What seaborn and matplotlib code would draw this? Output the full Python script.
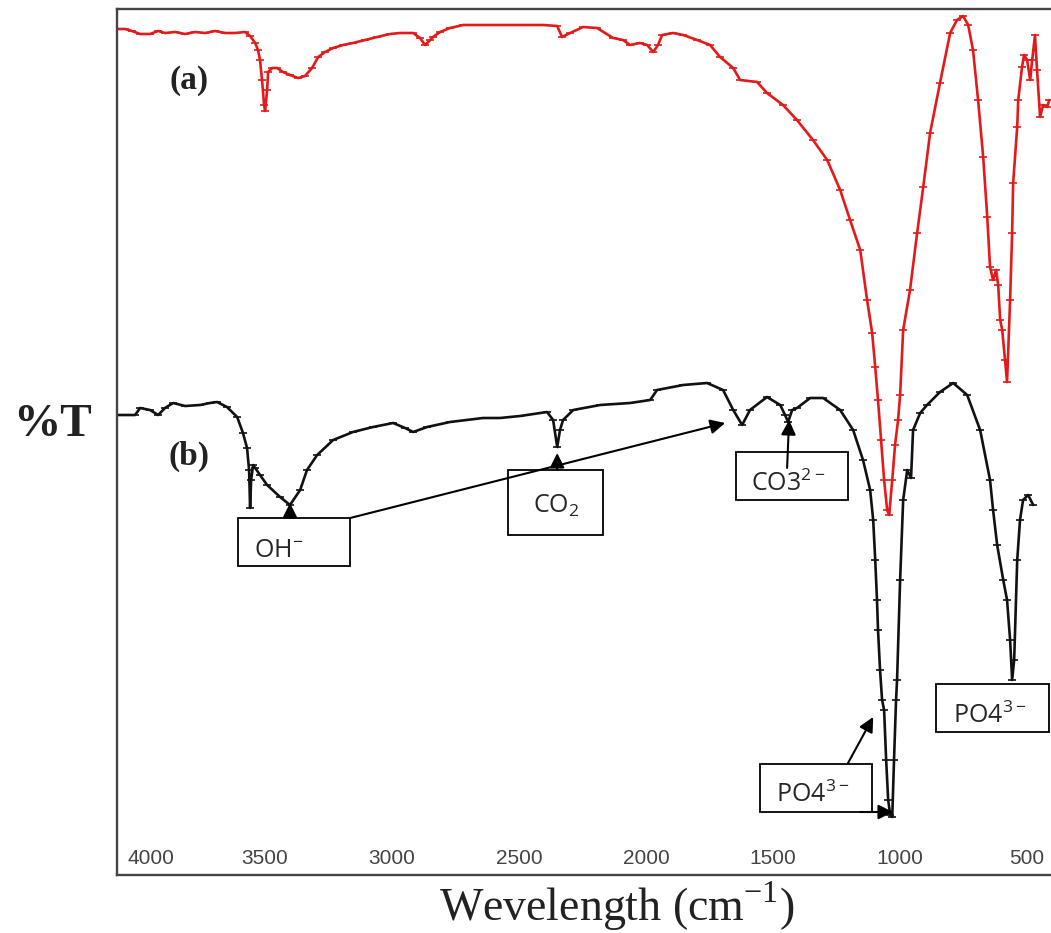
import matplotlib
matplotlib.use("Agg")
import matplotlib.pyplot as plt
import matplotlib.transforms as mtransforms
import seaborn as sns
import pandas as pd
from matplotlib.patches import Rectangle

# ---------------- data (wavenumber cm-1, transmittance a.u.) ----------------
red_wn = [4083, 4051, 4024, 3992, 3953, 3921, 3894, 3854, 3815, 3776, 3736, 3697, 3657, 3618,
          3579, 3559, 3539, 3528, 3520, 3512, 3504, 3500, 3492, 3488, 3472, 3453, 3429, 3402,
          3370, 3343, 3315, 3291, 3264, 3232, 3193, 3154, 3106, 3059, 3008, 2969, 2917, 2890,
          2870, 2850, 2839, 2811, 2772, 2720, 2575, 2406, 2350, 2331, 2299, 2248, 2193, 2130,
          2091, 2063, 2024, 1996, 1972, 1953, 1937, 1894, 1854, 1799, 1748, 1709, 1657, 1630,
          1563, 1524, 1461, 1406, 1343, 1287, 1236, 1197, 1157, 1130, 1110, 1098, 1087, 1075,
          1063, 1051, 1043, 1031, 1020, 1008, 1000, 988, 961, 933, 909, 882, 843, 803, 776,
          752, 732, 713, 693, 673, 657, 646, 634, 622, 614, 606, 598, 587, 579, 567, 559, 555,
          539, 535, 520, 512, 500, 488, 480, 469, 461, 449, 437, 421, 413]
red_t = [846, 846, 844, 841, 841, 844, 842, 843, 841, 843, 842, 844, 842, 842,
         843, 839, 832, 825, 815, 795, 770, 764, 785, 803, 807, 807, 803, 800,
         797, 799, 807, 818, 823, 827, 830, 832, 835, 838, 841, 842, 842, 837,
         830, 835, 838, 843, 847, 850, 850, 850, 849, 838, 842, 848, 847, 837,
         835, 830, 832, 830, 823, 830, 840, 842, 840, 835, 830, 818, 807, 795,
         793, 782, 770, 755, 735, 715, 685, 655, 625, 575, 542, 508, 475, 435,
         395, 365, 360, 395, 430, 455, 480, 545, 585, 642, 688, 742, 792, 842, 855,
         859, 850, 825, 775, 718, 658, 608, 595, 605, 590, 555, 545, 515, 493, 575, 642, 692,
         748, 775, 808, 820, 815, 795, 815, 840, 805, 758, 770, 768, 775]

black_wn = [4083, 4012, 3992, 3953, 3921, 3894, 3862, 3815, 3756, 3717, 3689, 3650, 3610,
            3587, 3571, 3563, 3559, 3555, 3547, 3539, 3520, 3492, 3441, 3402, 3362, 3335,
            3295, 3232, 3154, 3075, 2996, 2949, 2917, 2862, 2772, 2642, 2575, 2496, 2390,
            2366, 2350, 2339, 2327, 2287, 2181, 2063, 1984, 1957, 1854, 1760, 1697, 1657,
            1622, 1591, 1524, 1472, 1453, 1441, 1425, 1406, 1354, 1303, 1236, 1185, 1146,
            1118, 1106, 1098, 1091, 1087, 1079, 1071, 1063, 1055, 1047, 1039, 1031, 1024,
            1016, 1012, 1000, 988, 972, 957, 949, 921, 894, 843, 791, 736, 685, 646, 634,
            618, 594, 579, 567, 559, 551, 539, 528, 516, 496, 476]
black_t = [460, 460, 467, 465, 460, 467, 472, 469, 470, 472, 473, 468, 458,
           442, 427, 405, 367, 395, 410, 407, 400, 390, 378, 370, 385, 405,
           420, 435, 443, 448, 452, 447, 443, 448, 453, 457, 457, 459, 463,
           455, 428, 445, 455, 465, 470, 472, 475, 485, 490, 492, 485, 465,
           450, 465, 478, 470, 460, 453, 465, 467, 477, 477, 465, 445, 415,
           385, 355, 315, 275, 245, 205, 175, 165, 115, 75, 60, 58, 115,
           175, 195, 295, 375, 405, 397, 445, 462, 470, 483, 492, 480, 445, 395, 365,
           330, 295, 275, 235, 195, 215, 315, 355, 375, 380, 370]

tick_values = [4000, 3500, 3000, 2500, 2000, 1500, 1000, 500]
tick_labels = ["4000", "3500", "3000", "2500", "2000", "1500", "1000", "500"]

# ---------------- figure ----------------
sns.set_theme(style="white")
plt.rcParams["font.family"] = ["Liberation Sans", "DejaVu Sans"]

fig = plt.figure(figsize=(10.51, 9.33), dpi=100)
ax = fig.add_axes([117 / 1051, 1 - 875 / 933, 1 - 117 / 1051, (875 - 9) / 933])

df_a = pd.DataFrame({"wn": red_wn, "T": red_t})
df_b = pd.DataFrame({"wn": black_wn, "T": black_t})

sns.lineplot(data=df_a, x="wn", y="T", ax=ax, color="#e31a1a", lw=1.9, sort=False,
             estimator=None, marker="_", markersize=6, markeredgewidth=1.2,
             markeredgecolor="#e31a1a")
sns.lineplot(data=df_b, x="wn", y="T", ax=ax, color="#111111", lw=1.9, sort=False,
             estimator=None, marker="_", markersize=6, markeredgewidth=1.2,
             markeredgecolor="#111111")

ax.set_xlim(4083, 406)
ax.set_ylim(0, 866)
ax.set_xticks(tick_values)
ax.set_xticklabels(tick_labels)
ax.set_yticks([])
ax.set_xlabel("")
ax.set_ylabel("")
ax.tick_params(axis="x", direction="in", length=0, pad=-19, labelsize=15, labelcolor="#444444")
first = ax.xaxis.get_major_ticks()[0].label1
first.set_transform(first.get_transform() +
                    mtransforms.ScaledTranslation(0.13, 0, fig.dpi_scale_trans))

for side in ["left", "top", "bottom"]:
    ax.spines[side].set_color("#444444")
    ax.spines[side].set_linewidth(1.7)
ax.spines["right"].set_visible(False)

# panel labels
ax.text(3799, 795, "(a)", fontsize=24, fontweight="bold", family=["Liberation Serif"],
        ha="center", va="center", color="#222222")
ax.text(3799, 419, "(b)", fontsize=24, fontweight="bold", family=["Liberation Serif"],
        ha="center", va="center", color="#222222")

# annotation boxes
boxes = [(3165, 3606, 309, 357), (2169, 2543, 340, 405), (1205, 1646, 375, 423),
         (413, 858, 143, 191), (1110, 1551, 63, 111)]
for x0, x1, y0, y1 in boxes:
    ax.add_patch(Rectangle((x0, y0), x1 - x0, y1 - y0, fill=False, edgecolor="black",
                           lw=1.3, zorder=5))

lab_font = ["Open Sans", "DejaVu Sans"]
labels = [(3445, 318, r"OH$^{\mathregular{-}}$"),
          (2354, 362, r"CO$_{\mathregular{2}}$"),
          (1441, 384, r"CO3$^{\mathregular{2-}}$"),
          (646, 152, r"PO4$^{\mathregular{3-}}$"),
          (1343, 73, r"PO4$^{\mathregular{3-}}$")]
for x, y, s in labels:
    ax.text(x, y, s, fontsize=18, family=lab_font, ha="center", va="baseline", zorder=6)

arrow_kw = dict(arrowstyle="-|>", color="black", lw=1.5, mutation_scale=22, shrinkA=0, shrinkB=0)
arrows = [((3402, 357), (3402, 372)),
          ((3165, 357), (1689, 452)),
          ((2350, 405), (2350, 422)),
          ((1445, 407), (1437, 455)),
          ((1205, 112), (1106, 158)),
          ((1157, 63), (1028, 63))]
for tail, head in arrows:
    ax.annotate("", xy=head, xytext=tail, arrowprops=arrow_kw, zorder=6)

# axis titles
fig.text(53 / 1051, 1 - 425 / 933, "%T", fontsize=34, fontweight="bold",
         family=["Liberation Serif"], ha="center", va="center", color="#222222")
fig.text(617 / 1051, 1 - 921 / 933, r"Wevelength (cm$^{\mathregular{-1}}$)", fontsize=33,
         family=["Liberation Serif", "DejaVu Serif"], ha="center", va="baseline", color="#222222")

fig.savefig("out.png", dpi=100)
